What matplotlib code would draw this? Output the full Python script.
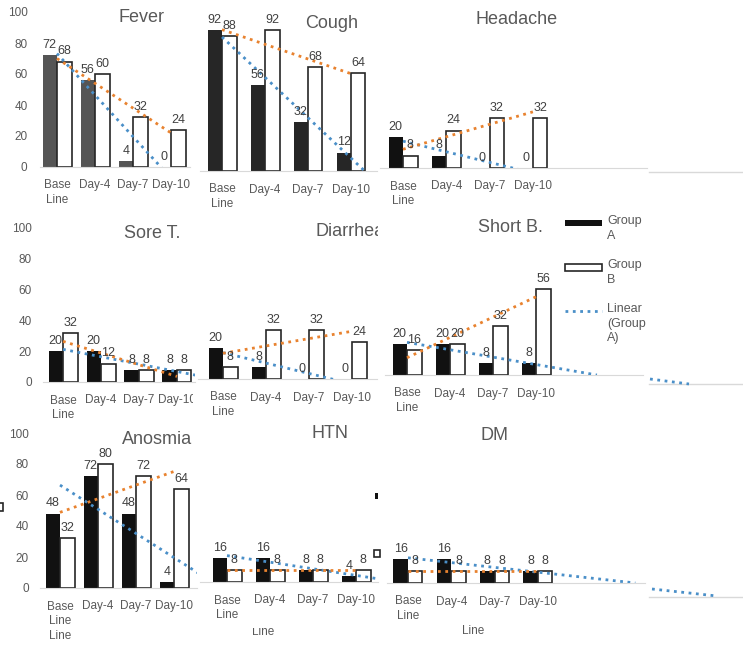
import matplotlib
matplotlib.use('Agg')
import numpy as np
import matplotlib.pyplot as plt
from matplotlib.patches import Rectangle
from matplotlib.lines import Line2D
from matplotlib.transforms import Bbox

plt.rcParams['font.family'] = ['Liberation Sans', 'DejaVu Sans']

W, H = 743, 645
GREY = '#595959'

# --- data (% of patients per visit) ---
categories = ['Base\nLine', 'Day-4', 'Day-7', 'Day-10']
fever_a, fever_b = [72, 56, 4, 0], [68, 60, 32, 24]
cough_a, cough_b = [92, 56, 32, 12], [88, 92, 68, 64]
headache_a, headache_b = [20, 8, 0, 0], [8, 24, 32, 32]
sore_a, sore_b = [20, 20, 8, 8], [32, 12, 8, 8]
diarrhea_a, diarrhea_b = [20, 8, 0, 0], [8, 32, 32, 24]
shortb_a, shortb_b = [20, 20, 8, 8], [16, 20, 32, 56]
anosmia_a, anosmia_b = [48, 72, 48, 4], [32, 80, 72, 64]
htn_a, htn_b = [16, 16, 8, 4], [8, 8, 8, 8]
dm_a, dm_b = [16, 16, 8, 8], [8, 8, 8, 8]

# panel: title, A, B, colour of A, (x0, x1, y_base, y_100, first centre, spacing) in px, title pos
panels = [
    ('Fever', fever_a, fever_b, '#555555', (40, 190, 167, 12, 57, 38), (142, 18)),
    ('Cough', cough_a, cough_b, '#262626', (200, 377, 171, 18, 222, 43), (332, 23)),
    ('Headache', headache_a, headache_b, '#111111', (380, 647, 168, 12, 403, 43.3), (517, 19)),
    ('Sore T.', sore_a, sore_b, '#111111', (43, 195, 382, 228, 63, 38), (152, 233)),
    ('Diarrhea', diarrhea_a, diarrhea_b, '#111111', (198, 377, 379, 226, 223, 43), (350, 232)),
    ('Short B.', shortb_a, shortb_b, '#111111', (385, 643, 375, 221, 407, 43), (510, 227)),
    ('Anosmia', anosmia_a, anosmia_b, '#111111', (40, 197, 588, 433, 60, 38), (157, 439)),
    ('HTN', htn_a, htn_b, '#111111', (200, 378, 582, 432, 227, 43), (330, 433)),
    ('DM', dm_a, dm_b, '#111111', (387, 645, 583, 433, 408, 43.3), (495, 435)),
]


def fx(x):
    return x / W


def fy(y):
    return 1 - y / H


fig = plt.figure(figsize=(W / 100, H / 100), dpi=100)
idx = np.arange(len(categories))

for k, (name, a, b, ca, box, tpos) in enumerate(panels):
    x0, x1, yb, yt, c0, s = box
    ax = fig.add_axes([fx(x0), fy(yb), (x1 - x0) / W, (yb - yt) / H])
    ax.set_facecolor('none')
    ax.set_xlim((x0 - c0) / s, (x1 - c0) / s)
    ax.set_ylim(0, 100)
    w = 14.5 / s
    ax.bar(idx - w / 2, a, w, color=ca, zorder=2)
    ax.bar(idx + w / 2, b, w, color='white', edgecolor='#262626', lw=1.2, zorder=2)
    for i in idx:
        for xo, v in ((-w / 2, a[i]), (w / 2, b[i])):
            ax.annotate(str(v), (i + xo, v), xytext=(0, 3), textcoords='offset points',
                        ha='center', va='bottom', fontsize=9, color='#404040',
                        annotation_clip=False, zorder=4)
    # linear trendlines (Excel style)
    pa = np.polyfit(idx, a, 1)
    xe = max(3, -pa[1] / pa[0]) if pa[0] < 0 else 3
    xa = np.array([0, xe])
    ax.plot(xa, np.polyval(pa, xa), ':', color='#4a8fc8', lw=2, zorder=3)
    pb = np.polyfit(idx, b, 1)
    xb = np.array([0, 3])
    ax.plot(xb, np.polyval(pb, xb), ':', color='#e8822f', lw=2, zorder=3)

    for sp in ['left', 'right', 'top']:
        ax.spines[sp].set_visible(False)
    ax.spines['bottom'].set_color('#d9d9d9')
    ax.set_xticks(idx, categories if name != 'Anosmia' else ['Base\nLine\nLine'] + categories[1:])
    ax.tick_params(axis='x', length=0, pad=9, labelsize=8.5, labelcolor=GREY)
    for lbl in ax.get_xticklabels():
        lbl.set_linespacing(1.3)
    if k % 3 == 0:
        ax.set_yticks(range(0, 101, 20))
        ax.tick_params(axis='y', length=0, pad=9 if k == 0 else 8, labelsize=8.5, labelcolor=GREY)
    else:
        ax.set_yticks([])
    if name == 'Sore T.':
        lbl = ax.get_xticklabels()[3]
        lbl.set_clip_box(Bbox([[0, 0], [193, H]]))
        lbl.set_clip_on(True)

    t = fig.text(fx(tpos[0]), fy(tpos[1]), name, ha='center', va='center',
                 fontsize=13, color=GREY)
    if name == 'Diarrhea':
        t.set_clip_box(Bbox([[0, 0], [378, H]]))
        t.set_clip_on(True)

# legend (left over from the Short B. chart)
fig.patches.append(Rectangle((fx(565), fy(226)), 37 / W, 6 / H, transform=fig.transFigure,
                             facecolor='#111111', edgecolor='none'))
fig.patches.append(Rectangle((fx(565), fy(271)), 37 / W, 7 / H, transform=fig.transFigure,
                             facecolor='white', edgecolor='#262626', lw=1.2))
fig.lines.append(Line2D([fx(565), fx(602)], [fy(311), fy(311)], transform=fig.transFigure,
                        ls=':', color='#4a8fc8', lw=2))
for ty, txt in ((215, 'Group\nA'), (259, 'Group\nB'), (303, 'Linear\n(Group\nA)')):
    fig.text(fx(607), fy(ty), txt, ha='left', va='top', fontsize=9, color=GREY,
             linespacing=1.3)

# fragments of other charts peeking out
for y in (172, 384, 597):
    fig.lines.append(Line2D([fx(649), 1], [fy(y), fy(y)], transform=fig.transFigure,
                            color='#d9d9d9', lw=1))
fig.lines.append(Line2D([fx(650), fx(689)], [fy(379), fy(384)], transform=fig.transFigure,
                        ls=':', color='#4a8fc8', lw=2))
fig.lines.append(Line2D([fx(652), fx(717)], [fy(589), fy(596)], transform=fig.transFigure,
                        ls=':', color='#4a8fc8', lw=2))
fig.patches.append(Rectangle((fx(375), fy(499)), 3 / W, 6 / H, transform=fig.transFigure,
                             facecolor='#111111', edgecolor='none'))
fig.patches.append(Rectangle((fx(374), fy(557)), 6 / W, 7 / H, transform=fig.transFigure,
                             facecolor='white', edgecolor='#262626', lw=1.2))
fig.patches.append(Rectangle((fx(-4), fy(511)), 7 / W, 8 / H, transform=fig.transFigure,
                             facecolor='white', edgecolor='#262626', lw=1.2))
fig.text(fx(473), fy(631), 'Line', ha='center', va='center', fontsize=8.5, color=GREY)
tl = fig.text(fx(263), fy(632), 'Line', ha='center', va='center', fontsize=8.5, color=GREY)
tl.set_clip_box(Bbox([[0, 0], [W, H - 628]]))
tl.set_clip_on(True)

fig.savefig('out.png', dpi=100)
